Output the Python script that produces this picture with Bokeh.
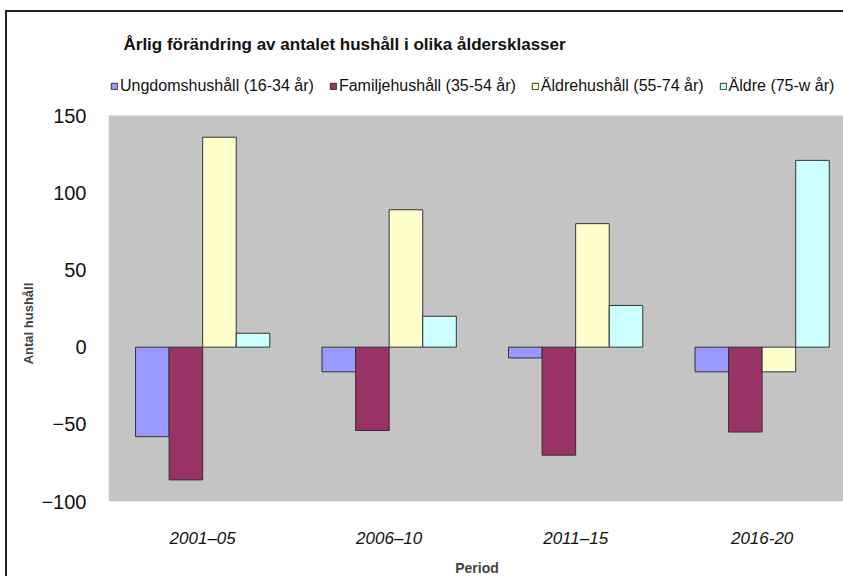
from bokeh.plotting import figure
from bokeh.models import ColumnDataSource, Range1d, Legend, LegendItem, FixedTicker
from bokeh.embed import file_html
from bokeh.resources import INLINE

periods = ["2001–05", "2006–10", "2011–15", "2016-20"]
series = ["Ungdomshushåll (16-34 år)", "Familjehushåll (35-54 år)",
          "Äldrehushåll (55-74 år)", "Äldre (75-w år)"]
ungdom = [-58, -16, -7, -16]
familj = [-86, -54, -70, -55]
aldrehush = [136, 89, 80, -16]
aldre75 = [9, 20, 27, 121]
y_ticks = [-100, -50, 0, 50, 100, 150]

colors = ["#9999ff", "#993366", "#ffffcc", "#ccffff"]
offsets = [-0.27, -0.09, 0.09, 0.27]
values = [ungdom, familj, aldrehush, aldre75]

FONT = "Liberation Sans"
X_START, X_END = -0.505, 3.447
Y_START, Y_END = -100, 184.4

p = figure(width=838, height=566, output_backend="svg", toolbar_location=None,
           x_range=Range1d(X_START, X_END), y_range=Range1d(Y_START, Y_END),
           min_border_left=101, min_border_right=0, min_border_top=50,
           min_border_bottom=76)
p.styles = {"border-left": "2px solid #222222", "border-top": "2px solid #222222",
            "margin-left": "5px", "margin-top": "10px"}
p.background_fill_color = "white"
p.border_fill_color = "white"
p.outline_line_color = None
p.xgrid.visible = False
p.ygrid.visible = False

# grey plot area (spans the tick range)
p.quad(left=X_START, right=X_END, bottom=min(y_ticks), top=max(y_ticks),
       fill_color="#c4c4c4", line_color=None)

idx = list(range(len(periods)))
items = []
for name, vals, col, off in zip(series, values, colors, offsets):
    src = ColumnDataSource(dict(x=[i + off for i in idx], top=vals))
    r = p.vbar(x="x", top="top", bottom=0, width=0.18, source=src,
               fill_color=col, line_color="#333333", line_width=1)
    items.append(LegendItem(label=name, renderers=[r]))

p.title.text = "Årlig förändring av antalet hushåll i olika åldersklasser"
p.title.text_font = FONT
p.title.text_font_size = "17px"
p.title.text_font_style = "bold"
p.title.text_color = "#111111"
p.title.align = "left"
p.title.offset = 15
p.title.standoff = 18

legend = Legend(items=items, orientation="horizontal", location=(2, 406),
                label_text_font=FONT, label_text_font_size="16px",
                label_text_color="#111111", glyph_width=8, glyph_height=8,
                label_standoff=2, spacing=15, padding=0, margin=0,
                background_fill_alpha=0, border_line_color=None)
p.add_layout(legend)

p.yaxis.ticker = FixedTicker(ticks=y_ticks)
p.yaxis.axis_line_color = None
p.yaxis.major_tick_line_color = None
p.yaxis.minor_tick_line_color = None
p.yaxis.major_label_standoff = 16
p.yaxis.major_label_text_font = FONT
p.yaxis.major_label_text_font_size = "20px"
p.yaxis.major_label_text_color = "#111111"
# trailing no-break spaces centre the visible label on the grey area
p.yaxis.axis_label = "Antal hushåll" + "\u00a0" * 23
p.yaxis.axis_label_text_font = FONT
p.yaxis.axis_label_text_font_size = "13px"
p.yaxis.axis_label_text_font_style = "bold"
p.yaxis.axis_label_standoff = 2

p.xaxis.ticker = FixedTicker(ticks=idx)
p.xaxis.major_label_overrides = {i: periods[i] for i in idx}
p.xaxis.axis_line_color = None
p.xaxis.major_tick_line_color = None
p.xaxis.minor_tick_line_color = None
p.xaxis.major_label_standoff = 21
p.xaxis.major_label_text_font = FONT
p.xaxis.major_label_text_font_size = "17px"
p.xaxis.major_label_text_font_style = "italic"
p.xaxis.major_label_text_color = "#111111"
p.xaxis.axis_label = "Period"
p.xaxis.axis_label_text_font = FONT
p.xaxis.axis_label_text_font_size = "14px"
p.xaxis.axis_label_text_font_style = "bold"
p.xaxis.axis_label_standoff = 9

open("out.html", "w").write(file_html(p, INLINE))
